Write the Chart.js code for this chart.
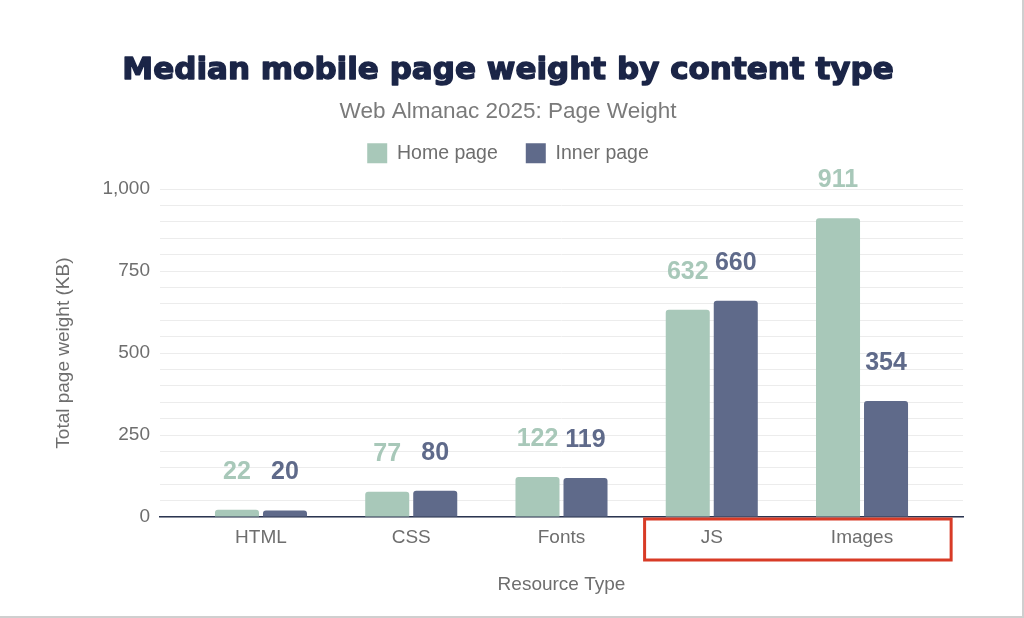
<!DOCTYPE html>
<html>
<head>
<style>
	body { margin: 0; background: #fff; }
	#wrap { width: 1022px; height: 616px; border-right: 2px solid #cfcfcf; border-bottom: 2px solid #cfcfcf; }
</style>
</head>
<body>
	<div id="wrap">
		<canvas id="myChart"></canvas>
	</div>

	<script src="https://cdn.jsdelivr.net/npm/chart.js"></script>

	<script>

		const categories = ['HTML', 'CSS', 'Fonts', 'JS', 'Images']
		const homePage = [22, 77, 122, 632, 911]
		const innerPage = [20, 80, 119, 660, 354]
		const yTicks = [0, 250, 500, 750, 1000]

		const homeColor = 'rgb(168, 200, 185)'
		const innerColor = 'rgb(95, 106, 138)'
		const textColor = '#6e6e6e'
		const titleText = 'Median mobile page weight by content type'
		const titleFont = { family: '"DejaVu Sans", sans-serif', size: 31, weight: 'bold', lineHeight: 1.2 }

		const ctx = document.getElementById('myChart');

		// values written above each bar
		const valueLabels = {
			id: 'valueLabels',
			afterDatasetsDraw(chart) {
				const c = chart.ctx
				c.save()
				c.font = 'bold 25px "Liberation Sans", Arial, sans-serif'
				c.textAlign = 'center'
				c.textBaseline = 'alphabetic'
				chart.data.datasets.forEach((dataset, i) => {
					c.fillStyle = dataset.backgroundColor
					chart.getDatasetMeta(i).data.forEach((bar, j) => {
						c.fillText(dataset.data[j].y, bar.x, bar.y - 31)
					})
				})
				c.restore()
			}
		}

		// red box round the JS and Images labels
		const highlight = {
			id: 'highlight',
			afterDraw(chart) {
				const x = chart.scales.x
				const c = chart.ctx
				const left = x.getPixelForValue(2.553)
				const right = x.getPixelForValue(4.593)
				const top = chart.chartArea.bottom + 2
				c.save()
				c.strokeStyle = '#d83b26'
				c.lineWidth = 3
				c.strokeRect(left, top, right - left, 41)
				c.restore()
			}
		}

		// heavier title: stroke over the drawn title
		const heavyTitle = {
			id: 'heavyTitle',
			afterDraw(chart) {
				const t = chart.titleBlock
				if (!t) return
				const c = chart.ctx
				c.save()
				c.font = 'bold ' + titleFont.size + 'px ' + titleFont.family
				c.textAlign = 'center'
				c.textBaseline = 'middle'
				c.strokeStyle = '#1b2547'
				c.lineWidth = 1.4
				c.lineJoin = 'round'
				c.strokeText(titleText, (t.left + t.right) / 2, t.top + 52 + titleFont.size * titleFont.lineHeight / 2)
				c.restore()
			}
		}

		// extra room between legend and plot
		const legendGap = {
			id: 'legendGap',
			beforeInit(chart) {
				const fit = chart.legend.fit
				chart.legend.fit = function () {
					fit.bind(chart.legend)()
					this.height += 16
				}
			}
		}

		const data = {
			datasets: [
				{
					label: 'Home page',
					data: homePage.map((v, i) => ({ x: i, y: v })),
					backgroundColor: homeColor,
					borderWidth: 0,
					borderRadius: 3,
					categoryPercentage: 0.639,
					barPercentage: 0.917,
				},
				{
					label: 'Inner page',
					data: innerPage.map((v, i) => ({ x: i, y: v })),
					backgroundColor: innerColor,
					borderWidth: 0,
					borderRadius: 3,
					categoryPercentage: 0.639,
					barPercentage: 0.917,
				},
			]
		};

		const options = {
			responsive: true,
			maintainAspectRatio: false,
			animation: false,
			layout: { padding: { left: 53, right: 59, top: 0, bottom: 0 } },
			plugins: {
				title: {
					display: true,
					text: titleText,
					color: '#1b2547',
					font: titleFont,
					padding: { top: 52, bottom: 0 },
				},
				subtitle: {
					display: true,
					text: 'Web Almanac 2025: Page Weight',
					color: '#7a7a7a',
					font: { family: '"Liberation Sans", Arial, sans-serif', size: 22.5, lineHeight: 1.2 },
					padding: { top: 9, bottom: -10 },
				},
				legend: {
					display: true,
					labels: {
						color: textColor,
						font: { family: '"Liberation Sans", Arial, sans-serif', size: 19.5 },
						boxWidth: 20,
						boxHeight: 20,
						padding: 28,
					}
				},
				tooltip: { enabled: false },
			},
			scales: {
				x: {
					type: 'linear',
					offset: false,
					min: -0.672,
					max: 4.672,
					afterBuildTicks: (scale) => {
						scale.ticks = categories.map((c, i) => ({ value: i }))
					},
					afterFit: (scale) => { scale.height = 99 },
					grid: { display: false },
					border: { display: true, color: '#2b3551', width: 1.5 },
					ticks: {
						color: textColor,
						font: { family: '"Liberation Sans", Arial, sans-serif', size: 19 },
						padding: 1,
						callback: (v) => categories[v],
					},
					title: {
						display: true,
						text: 'Resource Type',
						color: textColor,
						font: { family: '"Liberation Sans", Arial, sans-serif', size: 19 },
						padding: { top: 0, bottom: 20 },
					},
				},
				y: {
					min: 0,
					max: 1000,
					afterFit: (scale) => { scale.width = 107 },
					grid: { color: '#ececec', drawTicks: false },
					border: { display: false },
					ticks: {
						stepSize: 50,
						autoSkip: false,
						color: textColor,
						font: { family: '"Liberation Sans", Arial, sans-serif', size: 19 },
						padding: 10,
						callback: (v) => yTicks.includes(v) ? v.toLocaleString('en-US') : '',
					},
					title: {
						display: true,
						text: 'Total page weight (KB)',
						color: textColor,
						font: { family: '"Liberation Sans", Arial, sans-serif', size: 19 },
						padding: { top: -1, bottom: 0 },
					},
				}
			}
		};

		const chart = new Chart(ctx, {
			type: 'bar',
			data: data,
			options: options,
			plugins: [valueLabels, highlight, heavyTitle, legendGap],
		})

	</script>
</body>
</html>
